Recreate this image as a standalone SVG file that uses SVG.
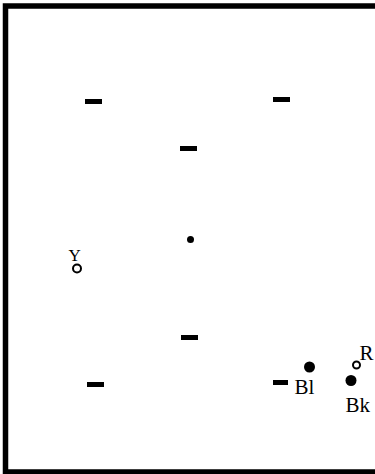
<svg xmlns="http://www.w3.org/2000/svg" width="375" height="474" viewBox="0 0 375 474">
<style>
.dash{fill:#000}
.lbl{font-family:"Liberation Serif","Times New Roman",serif;font-size:21px;fill:#000}
.hollow{fill:#fff;stroke:#000;stroke-width:2}
.solid{fill:#000}
</style>
<rect x="0" y="0" width="375" height="474" fill="#fff"/>
<rect x="5.5" y="6" width="380" height="466" fill="none" stroke="#000" stroke-width="5.5"/>
<g id="connectors"></g>
<g id="d1"><rect class="dash" x="85" y="99" width="17" height="5"/></g>
<g id="d2"><rect class="dash" x="273" y="97" width="17" height="5"/></g>
<g id="d3"><rect class="dash" x="180" y="146" width="17" height="5"/></g>
<g id="center"><circle class="solid" cx="190.5" cy="239.5" r="3.5"/></g>
<g id="d4"><rect class="dash" x="181" y="335" width="17" height="5"/></g>
<g id="d5"><rect class="dash" x="87" y="382" width="17" height="5"/></g>
<g id="d6"><rect class="dash" x="273" y="380" width="15" height="5"/></g>
<g id="Y"><text class="lbl" x="68.5" y="260.5" style="font-size:17px">Y</text><circle class="hollow" cx="77" cy="268.5" r="4"/></g>
<g id="Bl"><circle class="solid" cx="309.5" cy="367" r="5.5"/><text class="lbl" x="294.5" y="393.5">Bl</text></g>
<g id="Bk"><circle class="solid" cx="351" cy="380.5" r="5.5"/><text class="lbl" x="345.5" y="411.5">Bk</text></g>
<g id="R"><circle class="hollow" cx="356.5" cy="365" r="3.5"/><text class="lbl" x="359.5" y="360">R</text></g>
</svg>
